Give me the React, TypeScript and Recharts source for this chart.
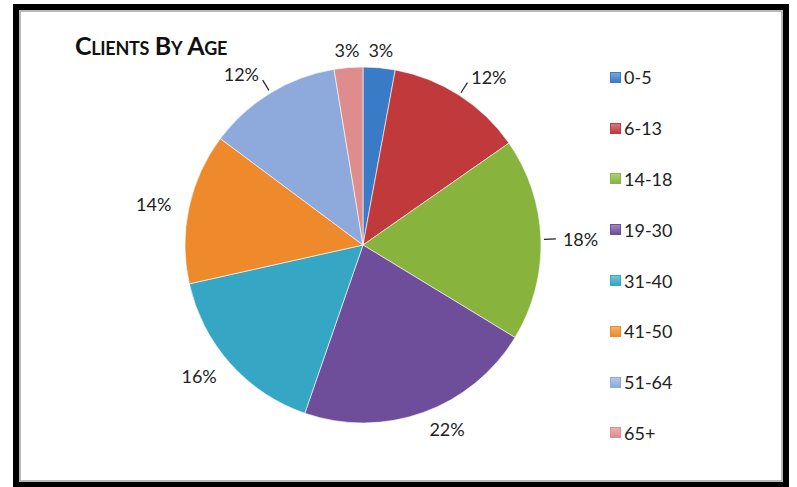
import { PieChart, Pie, Cell, Legend } from "recharts";

const AGE_GROUPS = ["0-5", "6-13", "14-18", "19-30", "31-40", "41-50", "51-64", "65+"];
const SHARES = [2.9, 12.4, 18.4, 21.6, 16.2, 13.7, 12.2, 2.6];
const COLORS = ["#3A7BC8", "#C0393B", "#88B43E", "#6E4D9A", "#35A6C4", "#EE8A2C", "#8EA9DB", "#DE8C8C"];
const LEADER_SLICES = [1, 2, 6];

const data = AGE_GROUPS.map((name, i) => ({ name, value: SHARES[i] }));

const RAD = Math.PI / 180;
const FONT = "Lato, 'Open Sans', sans-serif";

function renderLabel(props: any) {
  const { cx, cy, midAngle, outerRadius, percent, index } = props;
  const cos = Math.cos(-midAngle * RAD);
  const sin = Math.sin(-midAngle * RAD);
  const hasLeader = LEADER_SLICES.includes(index);
  const r = outerRadius + (hasLeader ? 22 : 18);
  const x = cx + r * cos;
  const y = cy + r * sin;
  const anchor = cos > 0.15 ? "start" : cos < -0.15 ? "end" : "middle";
  return (
    <g>
      {hasLeader && (
        <line
          x1={cx + (outerRadius + 3) * cos}
          y1={cy + (outerRadius + 3) * sin}
          x2={cx + (outerRadius + 15) * cos}
          y2={cy + (outerRadius + 15) * sin}
          stroke="#222"
          strokeWidth={1.2}
        />
      )}
      <text x={x} y={y} textAnchor={anchor} dominantBaseline="central" fill="#222" fontSize={18} fontFamily={FONT}>
        {`${Math.round(percent * 100)}%`}
      </text>
    </g>
  );
}

function AgeLegend() {
  return (
    <div style={{ fontFamily: FONT, fontSize: 18, color: "#222" }}>
      {AGE_GROUPS.map((g, i) => (
        <div key={g} style={{ height: 50.8, display: "flex", alignItems: "center" }}>
          <span
            style={{
              width: 9,
              height: 9,
              marginRight: 3,
              background: `linear-gradient(180deg, ${COLORS[i]}aa, ${COLORS[i]})`,
              border: `1px solid ${COLORS[i]}`,
              display: "inline-block",
            }}
          />
          <span>{g}</span>
        </div>
      ))}
    </div>
  );
}

export default function App() {
  return (
    <div style={{ position: "absolute", left: 0, top: 0, width: 797, height: 487, background: "#fff", overflow: "hidden" }}>
      <div
        style={{
          position: "absolute",
          left: 13,
          top: 4,
          width: 764,
          height: 472,
          border: "6px solid #000",
          boxSizing: "content-box",
        }}
      >
        <div style={{ position: "absolute", inset: 0, border: "2px solid #b8b8b8" }} />
      </div>
      <div
        style={{
          position: "absolute",
          left: 75,
          top: 30,
          fontFamily: FONT,
          fontWeight: 700,
          fontSize: 25,
          fontVariant: "small-caps",
          color: "#111",
          letterSpacing: -0.3,
        }}
      >
        Clients By Age
      </div>
      <div style={{ position: "absolute", left: 0, top: 0 }}>
        <PieChart width={797} height={487} margin={{ top: 0, right: 0, bottom: 0, left: 0 }}>
          <Pie
            data={data}
            dataKey="value"
            nameKey="name"
            cx={363}
            cy={245}
            outerRadius={178}
            startAngle={90}
            endAngle={-270}
            label={renderLabel}
            labelLine={false}
            stroke="#ffffff"
            strokeOpacity={0.6}
            strokeWidth={1}
            isAnimationActive={false}
          >
            {data.map((d, i) => (
              <Cell key={d.name} fill={COLORS[i]} />
            ))}
          </Pie>
          <Legend
            layout="vertical"
            align="right"
            verticalAlign="top"
            content={() => <AgeLegend />}
            wrapperStyle={{ left: 610, top: 52, width: 120 }}
          />
        </PieChart>
      </div>
    </div>
  );
}
